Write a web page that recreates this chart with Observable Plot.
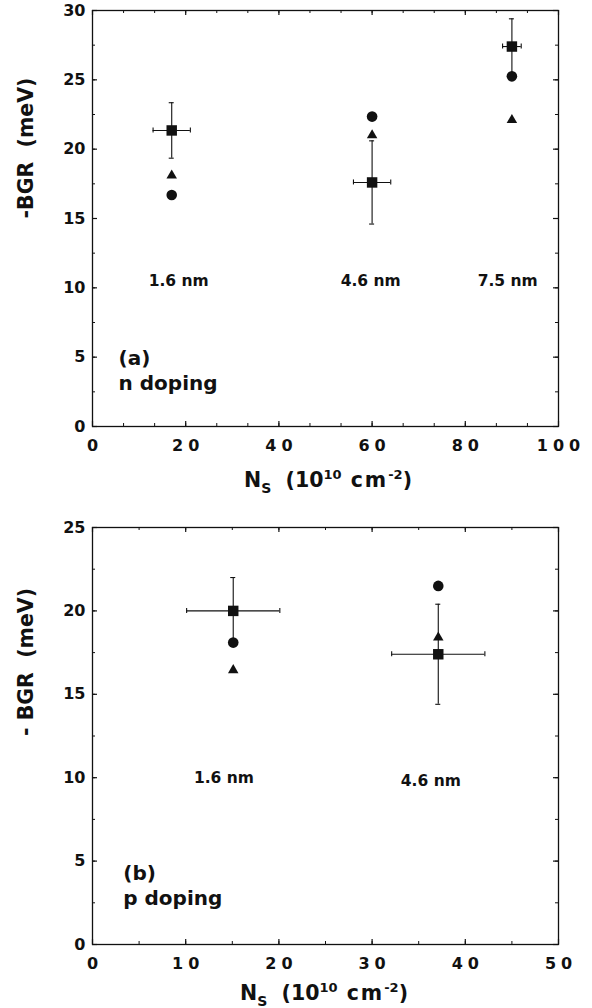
<!DOCTYPE html>
<html><head><meta charset="utf-8">
<script src="https://cdn.jsdelivr.net/npm/d3@7"></script>
<script src="https://cdn.jsdelivr.net/npm/@observablehq/plot@0.6"></script>
<style>
body{margin:0;background:#fff;}
#chart svg{display:block;}
g[aria-label^="x-axis"] text{letter-spacing:5px;}
</style></head><body><div id="chart"></div>
<script>
// ---- panel (a): n doping ----
const nWells = ["1.6 nm", "4.6 nm", "7.5 nm"];
const nNs = [17, 60, 90];
const nNsErr = [4, 4, 2];
const nSquare = [21.35, 17.6, 27.4];
const nSquareErr = [2, 3, 2];
const nCircle = [16.7, 22.35, 25.25];
const nTriangle = [18.1, 21.0, 22.1];
const nLabelX = [18.5, 59.7, 89.1];
const nLabelY = [10.15, 10.15, 10.15];
const nTag = ["(a)", "n doping"];
const nTagX = [5.6, 5.6];
const nTagY = [4.4, 2.6];
const nXTicks = [0, 20, 40, 60, 80, 100];
const nYTicks = [0, 5, 10, 15, 20, 25, 30];

// ---- panel (b): p doping ----
const pWells = ["1.6 nm", "4.6 nm"];
const pNs = [15.1, 37.1];
const pNsErr = [5, 5];
const pSquare = [20.0, 17.4];
const pSquareErr = [2, 3];
const pCircle = [18.1, 21.5];
const pTriangle = [16.45, 18.4];
const pLabelX = [14.1, 36.3];
const pLabelY = [9.67, 9.49];
const pTag = ["(b)", "p doping"];
const pTagX = [3.3, 3.3];
const pTagY = [3.84, 2.35];
const pXTicks = [0, 10, 20, 30, 40, 50];
const pYTicks = [0, 5, 10, 15, 20, 25];

const yLabelA = "-BGR  (meV)";
const yLabelB = "- BGR  (meV)";

const INK = "#111";

function panel(o) {
  const W = 592, mL = 92, mR = 34;
  const innerW = W - mL - mR, innerH = o.height - o.marginTop - o.marginBottom;
  const pts = o.ns.map((n, i) => ({
    ns: n, nsErr: o.nsErr[i], sq: o.sq[i], sqErr: o.sqErr[i],
    circ: o.circ[i], tri: o.tri[i], well: o.wells[i], lx: o.labX[i], ly: o.labY[i]
  }));
  const tags = o.tag.map((t, i) => ({t, x: o.tagX[i], y: o.tagY[i]}));
  const xMinor = d3.range(o.xDomain[0], o.xDomain[1] + 1e-6, o.xMinorStep);
  const yMinor = d3.range(o.yDomain[0], o.yDomain[1] + 1e-6, 2.5);
  const svg = Plot.plot({
    width: W, height: o.height,
    marginLeft: mL, marginRight: mR, marginTop: o.marginTop, marginBottom: o.marginBottom,
    x: {domain: o.xDomain, ticks: o.xTicks, tickSize: 0, tickPadding: 13, tickFormat: d => String(d), label: null},
    y: {domain: o.yDomain, ticks: o.yTicks, tickSize: 0, tickPadding: 7, tickFormat: d => String(d), label: null},
    style: {fontFamily: "DejaVu Sans", fontSize: "16px", fontWeight: "bold", color: INK, background: "white"},
    marks: [
      Plot.frame({stroke: INK, strokeWidth: 1.3}),
      // inward ticks, bottom & top
      Plot.tickX(xMinor, {x: d => d, stroke: INK, strokeWidth: 1, insetTop: innerH - 3}),
      Plot.tickX(xMinor, {x: d => d, stroke: INK, strokeWidth: 1, insetBottom: innerH - 3}),
      Plot.tickX(o.xTicks, {x: d => d, stroke: INK, strokeWidth: 1.2, insetTop: innerH - 5}),
      Plot.tickX(o.xTicks, {x: d => d, stroke: INK, strokeWidth: 1.2, insetBottom: innerH - 5}),
      // inward ticks, left & right
      Plot.tickY(yMinor, {y: d => d, stroke: INK, strokeWidth: 1, insetRight: innerW - 3}),
      Plot.tickY(yMinor, {y: d => d, stroke: INK, strokeWidth: 1, insetLeft: innerW - 3}),
      Plot.tickY(o.yTicks, {y: d => d, stroke: INK, strokeWidth: 1.2, insetRight: innerW - 5}),
      Plot.tickY(o.yTicks, {y: d => d, stroke: INK, strokeWidth: 1.2, insetLeft: innerW - 5}),
      // vertical error bars + caps
      Plot.ruleX(pts, {x: "ns", y1: d => d.sq - d.sqErr, y2: d => d.sq + d.sqErr, stroke: INK, strokeWidth: 1.1}),
      Plot.ruleY(pts, {y: d => d.sq - d.sqErr, x1: "ns", x2: "ns", insetLeft: -2.5, insetRight: -2.5, stroke: INK, strokeWidth: 1.1}),
      Plot.ruleY(pts, {y: d => d.sq + d.sqErr, x1: "ns", x2: "ns", insetLeft: -2.5, insetRight: -2.5, stroke: INK, strokeWidth: 1.1}),
      // horizontal error bars + caps
      Plot.ruleY(pts, {y: "sq", x1: d => d.ns - d.nsErr, x2: d => d.ns + d.nsErr, stroke: INK, strokeWidth: 1.1}),
      Plot.ruleX(pts, {x: d => d.ns - d.nsErr, y1: "sq", y2: "sq", insetTop: -2.5, insetBottom: -2.5, stroke: INK, strokeWidth: 1.1}),
      Plot.ruleX(pts, {x: d => d.ns + d.nsErr, y1: "sq", y2: "sq", insetTop: -2.5, insetBottom: -2.5, stroke: INK, strokeWidth: 1.1}),
      // symbols
      Plot.dot(pts, {x: "ns", y: "sq", symbol: "square", r: 5.9, fill: INK, stroke: "none"}),
      Plot.dot(pts, {x: "ns", y: "circ", symbol: "circle", r: 5.3, fill: INK, stroke: "none"}),
      Plot.dot(pts, {x: "ns", y: "tri", symbol: "triangle", r: 3.9, fill: INK, stroke: "none"}),
      // well width labels
      Plot.text(pts, {x: "lx", y: "ly", text: "well", fontSize: 15.5, fontWeight: "bold", lineAnchor: "bottom", fill: INK}),
      // panel tag
      Plot.text(tags, {x: "x", y: "y", text: "t", textAnchor: "start", fontSize: 20, fontWeight: "bold", lineAnchor: "bottom", fill: INK}),
      // y label
      Plot.text([o.yLabel], {frameAnchor: "left", dx: -66, rotate: -90, fontSize: 20.5, fontWeight: "bold", fill: INK, text: d => d})
    ]
  });
  const s = d3.select(svg);
  s.selectAll('g[aria-label^="x-axis"] text').attr("dx", 2.5);
  // x axis label with sub/superscripts
  const t = s.append("text")
    .attr("x", o.xLabelX).attr("y", o.xLabelY)
    .attr("text-anchor", "middle")
    .attr("font-size", 20.5).attr("font-weight", "bold")
    .attr("fill", INK).style("white-space", "pre");
  t.append("tspan").text("N");
  t.append("tspan").attr("font-size", 14).attr("dy", 6).text("S");
  t.append("tspan").attr("dy", -6).text("  (10");
  t.append("tspan").attr("font-size", 13).attr("dy", -8).text("10");
  t.append("tspan").attr("dy", 8).attr("letter-spacing", 2).text(" cm");
  t.append("tspan").attr("font-size", 13).attr("dy", -8).text("-2");
  t.append("tspan").attr("dy", 8).text(")");
  return svg;
}

const root = document.getElementById("chart");
root.appendChild(panel({
  wells: nWells, ns: nNs, nsErr: nNsErr, sq: nSquare, sqErr: nSquareErr,
  circ: nCircle, tri: nTriangle, labX: nLabelX, labY: nLabelY,
  tag: nTag, tagX: nTagX, tagY: nTagY,
  xDomain: [0, 100], yDomain: [0, 30], xTicks: nXTicks, yTicks: nYTicks, xMinorStep: 20 / 3,
  yLabel: yLabelA, height: 500, marginTop: 10, marginBottom: 74,
  xLabelX: 328, xLabelY: 487
}));
root.appendChild(panel({
  wells: pWells, ns: pNs, nsErr: pNsErr, sq: pSquare, sqErr: pSquareErr,
  circ: pCircle, tri: pTriangle, labX: pLabelX, labY: pLabelY,
  tag: pTag, tagX: pTagX, tagY: pTagY,
  xDomain: [0, 50], yDomain: [0, 25], xTicks: pXTicks, yTicks: pYTicks, xMinorStep: 5,
  yLabel: yLabelB, height: 508, marginTop: 27, marginBottom: 64,
  xLabelX: 324, xLabelY: 500
}));
</script></body></html>
